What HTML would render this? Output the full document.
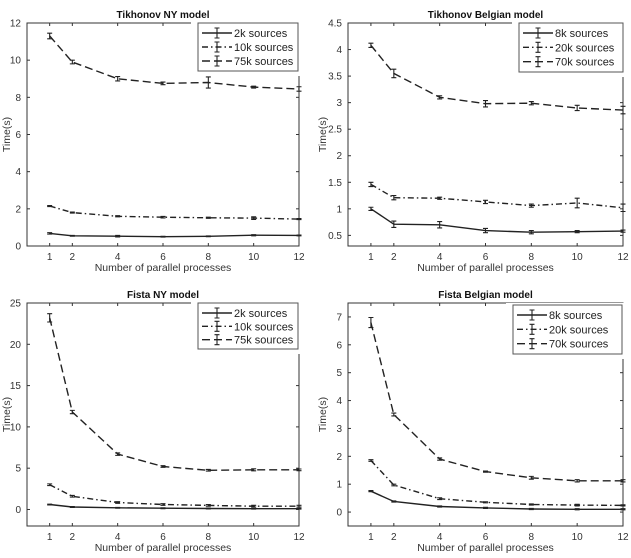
<!DOCTYPE html>
<html><head><meta charset="utf-8"><style>
html,body{margin:0;padding:0;background:#fff;}
svg{display:block;font-family:"Liberation Sans",Arial,sans-serif;}
</style></head><body>
<svg id="fig" width="631" height="558" viewBox="0 0 631 558" xmlns="http://www.w3.org/2000/svg"></svg>
<script>
const xCats = [1,2,4,6,8,10,12];
const xTicks = [1,2,4,6,8,10,12];

const tnyTitle = "Tikhonov NY model";
const tnyLabels = ["2k sources","10k sources","75k sources"];
const tny2k = [0.68,0.55,0.53,0.5,0.52,0.58,0.57];
const tny10k = [2.15,1.8,1.6,1.55,1.52,1.5,1.45];
const tny75k = [11.3,9.9,9.0,8.75,8.8,8.55,8.45];
const tny2kErr = [0.04,0.02,0.04,0.02,0.02,0.03,0.02];
const tny10kErr = [0.03,0.03,0.03,0.04,0.03,0.07,0.03];
const tny75kErr = [0.15,0.1,0.12,0.07,0.3,0.05,0.12];
const tnyYTicks = [0,2,4,6,8,10,12];

const tbeTitle = "Tikhonov Belgian model";
const tbeLabels = ["8k sources","20k sources","70k sources"];
const tbe8k = [1.0,0.71,0.7,0.59,0.56,0.57,0.58];
const tbe20k = [1.46,1.21,1.2,1.13,1.06,1.11,1.02];
const tbe70k = [4.08,3.55,3.1,2.98,2.99,2.9,2.86];
const tbe8kErr = [0.03,0.06,0.06,0.04,0.03,0.02,0.02];
const tbe20kErr = [0.04,0.04,0.02,0.03,0.03,0.09,0.07];
const tbe70kErr = [0.04,0.08,0.03,0.06,0.03,0.05,0.07];
const tbeYTicks = [0.5,1,1.5,2,2.5,3,3.5,4,4.5];
const tbeYTickLabels = ["0.5","1","1.5","2","2.5","3","3.5","4","4.5"];

const fnyTitle = "Fista NY model";
const fnyLabels = ["2k sources","10k sources","75k sources"];
const fny2k = [0.6,0.3,0.2,0.15,0.12,0.1,0.1];
const fny10k = [3.0,1.6,0.85,0.6,0.5,0.4,0.4];
const fny75k = [23.2,11.8,6.7,5.2,4.75,4.8,4.8];
const fny2kErr = [0.05,0.05,0.05,0.05,0.05,0.05,0.05];
const fny10kErr = [0.1,0.1,0.1,0.1,0.1,0.1,0.1];
const fny75kErr = [0.5,0.2,0.15,0.1,0.1,0.12,0.1];
const fnyYTicks = [0,5,10,15,20,25];

const fbeTitle = "Fista Belgian model";
const fbeLabels = ["8k sources","20k sources","70k sources"];
const fbe8k = [0.75,0.38,0.2,0.15,0.11,0.1,0.1];
const fbe20k = [1.85,0.97,0.48,0.35,0.27,0.25,0.24];
const fbe70k = [6.8,3.5,1.9,1.45,1.23,1.12,1.12];
const fbe8kErr = [0.02,0.02,0.02,0.02,0.02,0.02,0.02];
const fbe20kErr = [0.03,0.03,0.03,0.02,0.02,0.03,0.02];
const fbe70kErr = [0.18,0.05,0.04,0.02,0.05,0.04,0.04];
const fbeYTicks = [0,1,2,3,4,5,6,7];

const NS = "http://www.w3.org/2000/svg";
const svg = document.getElementById('fig');
const DASHES = [null, "6,3,1.5,3", "8,4"];
const INK = "#222";

function mk(tag, attrs, parent){
  const e = document.createElementNS(NS, tag);
  for (const k in attrs) e.setAttribute(k, attrs[k]);
  (parent||svg).appendChild(e);
  return e;
}

function panel(cfg){
  const g = mk('g', {});
  
  
  const {L,R,T,B,ymin,ymax} = cfg;
  const sx = v => L + (v - 0) / 12 * (R - L);
  const sy = v => B - (v - ymin) / (ymax - ymin) * (B - T);
  // axes box
  const box = mk('rect', {x:L, y:T, width:R-L, height:B-T, fill:'none', stroke:'#333', 'stroke-width':1}, g);
  
  
  // ticks
  xTicks.forEach(t => {
    const x = sx(t);
    mk('line', {x1:x, y1:B, x2:x, y2:B-3, stroke:'#333'}, g);
    mk('line', {x1:x, y1:T, x2:x, y2:T+3, stroke:'#333'}, g);
    const tx = mk('text', {x:x, y:B+14, 'text-anchor':'middle', 'font-size':10, fill:'#333'}, g);
    tx.textContent = t;
    
    
  });
  cfg.yTicks.forEach((t, i) => {
    const y = sy(t);
    mk('line', {x1:L, y1:y, x2:L+3, y2:y, stroke:'#333'}, g);
    mk('line', {x1:R, y1:y, x2:R-3, y2:y, stroke:'#333'}, g);
    const tx = mk('text', {x:L-6, y:y+3.5, 'text-anchor':'end', 'font-size':10, fill:'#333'}, g);
    tx.textContent = cfg.yTickLabels ? cfg.yTickLabels[i] : t;
    
    
  });
  // series
  cfg.series.forEach((s, si) => {
    const pts = xCats.map((c, i) => sx(c).toFixed(1) + ',' + sy(s[i]).toFixed(1)).join(' ');
    const pl = mk('polyline', {points:pts, fill:'none', stroke:INK, 'stroke-width':1.4}, g);
    if (DASHES[si]) pl.setAttribute('stroke-dasharray', DASHES[si]);
    
    
    xCats.forEach((c, i) => {
      const x = sx(c), e = cfg.errs[si][i];
      const y1 = sy(s[i] - e), y2 = sy(s[i] + e);
      const eb = mk('path', {d:`M${x},${y1}V${y2}M${x-2.5},${y1}H${x+2.5}M${x-2.5},${y2}H${x+2.5}`, stroke:INK, 'stroke-width':1.1, fill:'none'}, g);
      
      
    });
  });
  // title
  const tt = mk('text', {x:(L+R)/2, y:T-5, 'text-anchor':'middle', 'font-size':10, 'font-weight':'bold', fill:'#111'}, g);
  tt.textContent = cfg.title;
  
  
  // xlabel
  const xl = mk('text', {x:(L+R)/2, y:B+25, 'text-anchor':'middle', 'font-size':10.5, fill:'#333'}, g);
  xl.textContent = 'Number of parallel processes';
  
  
  // ylabel
  const yx = cfg.ylx, yy = (T+B)/2;
  const yl = mk('text', {x:yx, y:yy, 'text-anchor':'middle', 'font-size':10.5, fill:'#333', transform:`rotate(-90 ${yx} ${yy})`}, g);
  yl.textContent = 'Time(s)';
  
  
  // legend
  const lg = mk('g', {}, g);
  
  
  const [lx, ly, lw, lh] = cfg.leg;
  mk('rect', {x:lx-7, y:ly-2, width:lw+9, height:lh+7, fill:'#fff', stroke:'none'}, lg);
  mk('rect', {x:lx, y:ly, width:lw, height:lh, fill:'#fff', stroke:'#555', 'stroke-width':1}, lg);
  cfg.labels.forEach((lab, si) => {
    const yy2 = ly + 10 + si * (lh - 6) / 3;
    const le = mk('g', {}, lg);
    
    
    const ln = mk('line', {x1:lx+4, y1:yy2, x2:lx+34, y2:yy2, stroke:INK, 'stroke-width':1.4}, le);
    if (DASHES[si]) ln.setAttribute('stroke-dasharray', DASHES[si]);
    mk('path', {d:`M${lx+19},${yy2-5}V${yy2+5}M${lx+16.5},${yy2-5}H${lx+21.5}M${lx+16.5},${yy2+5}H${lx+21.5}`, stroke:INK, 'stroke-width':1.1, fill:'none'}, le);
    const t = mk('text', {x:lx+36, y:yy2+4, 'font-size':11, fill:'#222'}, le);
    t.textContent = lab;
  });
}

panel({name:'tikhonov-ny-chart', title:tnyTitle, L:27, R:299, T:23, B:246, ymin:0, ymax:12,
  yTicks:tnyYTicks, series:[tny2k,tny10k,tny75k], errs:[tny2kErr,tny10kErr,tny75kErr],
  labels:tnyLabels, leg:[198,23,100,48], ylx:10});
panel({name:'tikhonov-belgian-chart', title:tbeTitle, L:348, R:623, T:23, B:246, ymin:0.3, ymax:4.5,
  yTicks:tbeYTicks, yTickLabels:tbeYTickLabels, series:[tbe8k,tbe20k,tbe70k], errs:[tbe8kErr,tbe20kErr,tbe70kErr],
  labels:tbeLabels, leg:[519,23,104,49], ylx:326});
panel({name:'fista-ny-chart', title:fnyTitle, L:27, R:299, T:303, B:526, ymin:-2, ymax:25,
  yTicks:fnyYTicks, series:[fny2k,fny10k,fny75k], errs:[fny2kErr,fny10kErr,fny75kErr],
  labels:fnyLabels, leg:[198,303,100,46], ylx:10});
panel({name:'fista-belgian-chart', title:fbeTitle, L:348, R:623, T:303, B:526, ymin:-0.5, ymax:7.5,
  yTicks:fbeYTicks, series:[fbe8k,fbe20k,fbe70k], errs:[fbe8kErr,fbe20kErr,fbe70kErr],
  labels:fbeLabels, leg:[513,305,109,49], ylx:326});
</script>
</body></html>
